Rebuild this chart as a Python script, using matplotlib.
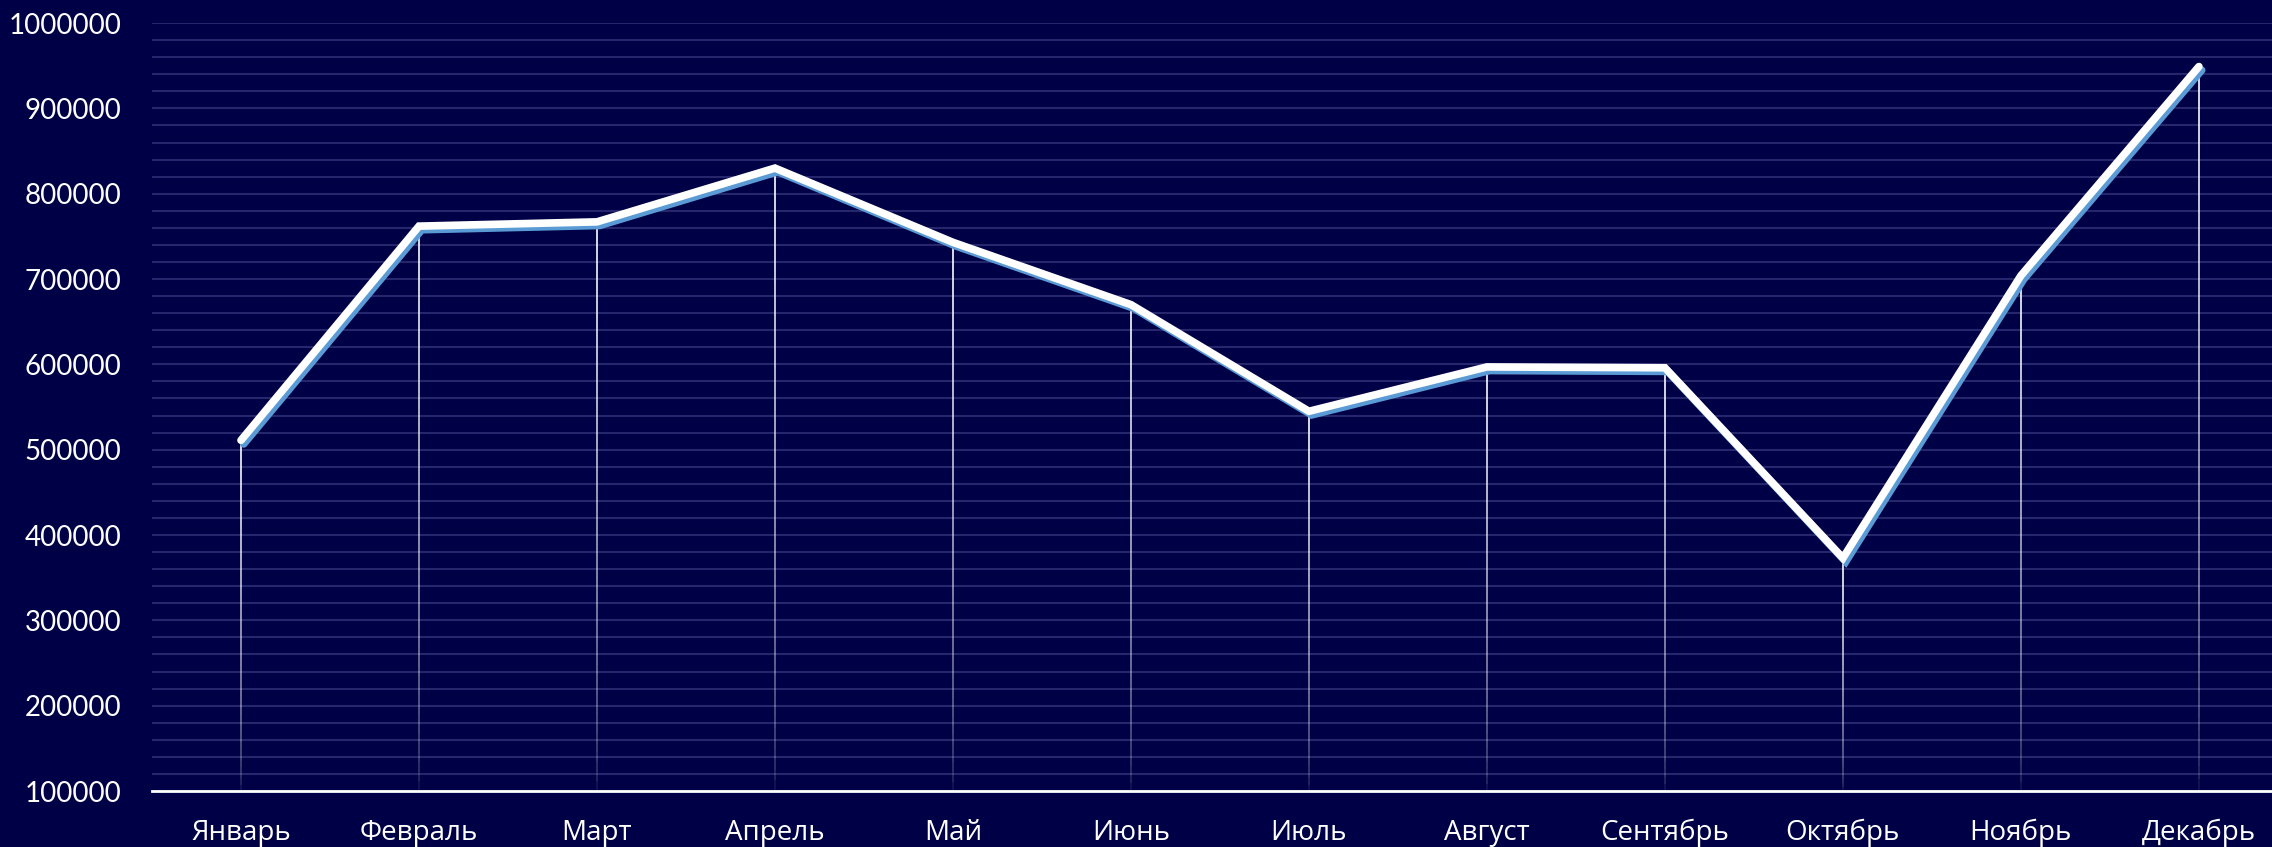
import numpy as np
import matplotlib
matplotlib.use("Agg")
import matplotlib.pyplot as plt
import matplotlib.patheffects as pe
from matplotlib.collections import LineCollection

# данные
months = ['Январь', 'Февраль', 'Март', 'Апрель', 'Май', 'Июнь',
          'Июль', 'Август', 'Сентябрь', 'Октябрь', 'Ноябрь', 'Декабрь']
values = [511000, 762000, 767000, 830000, 743000, 670000,
          545000, 597000, 596000, 373000, 704000, 949000]
y_ticks = [100000, 200000, 300000, 400000, 500000, 600000, 700000, 800000, 900000, 1000000]

bg = '#000046'
plt.rcParams['font.family'] = ['Lato', 'DejaVu Sans']

fig = plt.figure(figsize=(22.72, 8.47), dpi=100, facecolor=bg)
ax = fig.add_axes([0.0669, 0.0661, 0.9401, 0.9067], facecolor=bg)

x = np.arange(len(months))
ax.set_xlim(-0.5, 11.5)
ax.set_ylim(100000, 1000000)

# мелкая сетка каждые 20000
ax.set_yticks(y_ticks)
ax.set_yticklabels([str(t) for t in y_ticks])
ax.set_yticks(np.arange(100000, 1000001, 20000), minor=True)
ax.grid(axis='y', which='both', color='#26266c', linewidth=1.5)
ax.set_axisbelow(True)

# вертикальные линии с затуханием вниз
segs, cols = [], []
for xi, v in zip(x, values):
    ys = np.linspace(100000, v, 60)
    for k in range(len(ys) - 1):
        segs.append([(xi, ys[k]), (xi, ys[k + 1])])
        a = 0.08 + 0.85 * (k / (len(ys) - 2)) ** 0.6
        cols.append((1, 1, 1, a))
ax.add_collection(LineCollection(segs, colors=cols, linewidths=1.3, zorder=2))

ax.plot(x, values, color='white', linewidth=5.5, solid_joinstyle='miter',
        solid_capstyle='round', zorder=3,
        path_effects=[pe.SimpleLineShadow(offset=(2, -2.6), shadow_color='#5b9bd5', alpha=1),
                      pe.Normal()])

for s in ['top', 'right', 'left']:
    ax.spines[s].set_visible(False)
ax.spines['bottom'].set_color('white')
ax.spines['bottom'].set_linewidth(2)
ax.spines['bottom'].set_zorder(4)

ax.set_xticks(x)
ax.set_xticklabels(months, fontfamily=['Open Sans', 'DejaVu Sans'])
ax.tick_params(axis='x', length=0, pad=20, labelsize=20, colors='white')
ax.tick_params(axis='y', which='both', length=0, pad=22, labelsize=20, colors='white')

fig.savefig('out.png', dpi=100, facecolor=bg)
